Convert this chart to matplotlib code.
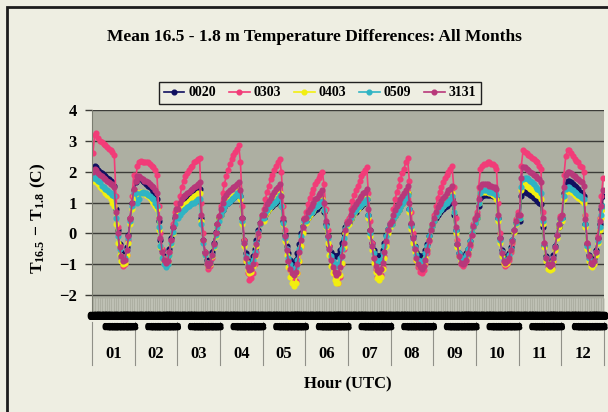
"""
Mean 16.5 - 1.8 m temperature differences, hourly by month, five towers.
"""
import numpy as np
import matplotlib
matplotlib.use("Agg")
from matplotlib import pyplot as plt
from matplotlib import patheffects
from matplotlib.patches import Rectangle
from matplotlib.transforms import blended_transform_factory

months = ["01", "02", "03", "04", "05", "06", "07", "08", "09", "10", "11", "12"]
hours = ["00", "01", "02", "03", "04", "05", "06", "07", "08", "09", "10", "11",
         "12", "13", "14", "15", "16", "17", "18", "19", "20", "21", "22", "23"]

# one row of 24 hourly means per month
t0020 = [
    [2.05, 2.2, 2.15, 2.05, 2.0, 1.95, 1.9, 1.85, 1.8, 1.75, 1.7, 1.65, 1.55, 0.8, 0.1, -0.35, -0.6, -0.75, -0.7, -0.45, -0.05, 0.5, 1.0, 1.4],
    [1.65, 1.75, 1.8, 1.75, 1.7, 1.65, 1.6, 1.55, 1.5, 1.45, 1.35, 1.25, 1.1, 0.4, -0.2, -0.55, -0.75, -0.8, -0.75, -0.5, -0.15, 0.2, 0.5, 0.7],
    [0.7, 0.85, 0.95, 1.0, 1.05, 1.1, 1.15, 1.2, 1.25, 1.3, 1.35, 1.4, 1.45, 0.5, -0.2, -0.6, -0.85, -0.9, -0.85, -0.6, -0.3, 0.05, 0.3, 0.5],
    [0.6, 0.75, 0.85, 0.95, 1.0, 1.05, 1.1, 1.15, 1.2, 1.25, 1.3, 1.2, 0.5, -0.2, -0.65, -0.9, -0.95, -0.9, -0.75, -0.5, -0.2, 0.1, 0.35, 0.5],
    [0.5, 0.6, 0.7, 0.8, 0.85, 0.9, 0.95, 1.0, 1.1, 1.2, 0.9, 0.4, -0.05, -0.4, -0.65, -0.85, -0.95, -0.95, -0.85, -0.65, -0.35, 0.0, 0.25, 0.45],
    [0.4, 0.5, 0.6, 0.65, 0.7, 0.75, 0.8, 0.9, 0.95, 1.0, 0.7, 0.3, -0.1, -0.4, -0.6, -0.7, -0.75, -0.75, -0.7, -0.55, -0.3, 0.0, 0.2, 0.35],
    [0.35, 0.45, 0.55, 0.65, 0.7, 0.8, 0.85, 0.9, 0.95, 1.0, 1.1, 0.6, 0.1, -0.3, -0.55, -0.7, -0.75, -0.75, -0.7, -0.55, -0.3, -0.05, 0.15, 0.3],
    [0.3, 0.45, 0.55, 0.65, 0.75, 0.85, 0.95, 1.05, 1.15, 1.3, 0.8, 0.3, -0.1, -0.4, -0.6, -0.7, -0.75, -0.75, -0.7, -0.55, -0.35, -0.1, 0.1, 0.25],
    [0.4, 0.5, 0.6, 0.7, 0.75, 0.8, 0.85, 0.9, 0.95, 1.0, 1.1, 0.6, 0.1, -0.35, -0.65, -0.8, -0.8, -0.75, -0.65, -0.5, -0.25, 0.0, 0.2, 0.35],
    [0.5, 0.9, 1.15, 1.2, 1.25, 1.25, 1.25, 1.25, 1.25, 1.2, 1.2, 1.15, 0.5, -0.15, -0.55, -0.75, -0.8, -0.75, -0.65, -0.45, -0.2, 0.1, 0.35, 0.5],
    [0.4, 1.2, 1.35, 1.35, 1.3, 1.3, 1.25, 1.2, 1.15, 1.1, 1.05, 1.0, 0.95, 0.2, -0.4, -0.75, -0.9, -0.9, -0.85, -0.7, -0.4, -0.05, 0.2, 0.35],
    [0.5, 1.3, 1.6, 1.7, 1.7, 1.65, 1.6, 1.55, 1.5, 1.45, 1.35, 1.3, 1.2, 0.3, -0.35, -0.7, -0.85, -0.9, -0.8, -0.55, -0.15, 0.3, 0.8, 1.2],
]
t0303 = [
    [2.6, 3.2, 3.25, 3.1, 3.0, 2.95, 2.9, 2.85, 2.8, 2.75, 2.7, 2.65, 2.55, 1.2, 0.2, -0.4, -0.8, -1.05, -1.0, -0.7, -0.2, 0.5, 1.2, 1.9],
    [1.7, 2.2, 2.3, 2.35, 2.3, 2.3, 2.3, 2.3, 2.25, 2.2, 2.15, 2.05, 1.9, 0.9, 0.0, -0.5, -0.8, -0.95, -0.9, -0.6, -0.2, 0.3, 0.7, 1.0],
    [0.8, 1.2, 1.5, 1.7, 1.85, 1.95, 2.05, 2.15, 2.2, 2.3, 2.35, 2.4, 2.45, 1.0, 0.0, -0.6, -1.0, -1.15, -1.05, -0.8, -0.4, 0.0, 0.3, 0.55],
    [0.9, 1.3, 1.6, 1.85, 2.05, 2.25, 2.4, 2.55, 2.65, 2.75, 2.85, 2.3, 0.9, -0.2, -0.9, -1.3, -1.5, -1.45, -1.3, -1.0, -0.6, -0.1, 0.3, 0.6],
    [0.8, 1.1, 1.35, 1.55, 1.75, 1.9, 2.05, 2.2, 2.3, 2.4, 2.0, 0.9, 0.1, -0.5, -0.9, -1.2, -1.45, -1.6, -1.55, -1.3, -0.9, -0.4, 0.1, 0.5],
    [0.7, 0.95, 1.15, 1.3, 1.45, 1.6, 1.7, 1.8, 1.9, 2.0, 1.6, 0.8, 0.1, -0.4, -0.8, -1.1, -1.35, -1.55, -1.6, -1.4, -1.0, -0.5, 0.0, 0.4],
    [0.5, 0.8, 1.05, 1.25, 1.4, 1.55, 1.7, 1.85, 1.95, 2.05, 2.15, 1.3, 0.4, -0.3, -0.8, -1.15, -1.4, -1.45, -1.35, -1.1, -0.75, -0.3, 0.1, 0.35],
    [0.4, 0.8, 1.1, 1.35, 1.55, 1.75, 1.95, 2.1, 2.3, 2.45, 1.7, 0.7, 0.0, -0.5, -0.85, -1.1, -1.25, -1.3, -1.2, -1.0, -0.65, -0.25, 0.1, 0.3],
    [0.6, 0.9, 1.15, 1.35, 1.5, 1.65, 1.8, 1.9, 2.0, 2.1, 2.2, 1.5, 0.5, -0.2, -0.7, -1.0, -1.05, -1.0, -0.9, -0.7, -0.4, -0.05, 0.3, 0.5],
    [0.7, 1.5, 2.1, 2.2, 2.25, 2.25, 2.3, 2.3, 2.25, 2.25, 2.2, 2.1, 1.0, 0.0, -0.6, -0.95, -1.05, -1.0, -0.85, -0.6, -0.3, 0.1, 0.45, 0.7],
    [0.6, 2.2, 2.7, 2.65, 2.6, 2.55, 2.5, 2.45, 2.4, 2.35, 2.3, 2.2, 2.1, 0.7, -0.3, -0.8, -1.05, -1.15, -1.1, -0.9, -0.5, -0.05, 0.3, 0.55],
    [0.6, 1.9, 2.5, 2.7, 2.7, 2.6, 2.5, 2.4, 2.35, 2.3, 2.2, 2.15, 2.0, 0.6, -0.3, -0.8, -1.0, -1.05, -0.95, -0.6, -0.1, 0.5, 1.2, 1.8],
]
t0403 = [
    [1.7, 1.75, 1.65, 1.6, 1.5, 1.45, 1.4, 1.3, 1.25, 1.2, 1.1, 1.0, 0.9, 0.3, -0.3, -0.7, -0.9, -1.0, -0.95, -0.7, -0.3, 0.3, 0.8, 1.2],
    [1.35, 1.1, 1.2, 1.35, 1.35, 1.3, 1.25, 1.2, 1.15, 1.05, 1.0, 0.9, 0.8, 0.1, -0.45, -0.8, -0.95, -1.0, -0.95, -0.7, -0.35, 0.0, 0.3, 0.55],
    [0.6, 0.75, 0.85, 0.9, 0.95, 1.0, 1.05, 1.1, 1.15, 1.2, 1.25, 1.3, 1.3, 0.4, -0.25, -0.7, -0.95, -1.05, -1.0, -0.75, -0.45, -0.1, 0.2, 0.45],
    [0.6, 0.8, 0.9, 1.0, 1.05, 1.1, 1.15, 1.2, 1.25, 1.3, 1.4, 1.1, 0.3, -0.4, -0.9, -1.2, -1.3, -1.25, -1.05, -0.75, -0.4, 0.0, 0.3, 0.5],
    [0.4, 0.6, 0.7, 0.8, 0.9, 0.95, 1.0, 1.1, 1.2, 1.3, 0.9, 0.3, -0.25, -0.7, -1.1, -1.4, -1.6, -1.7, -1.6, -1.3, -0.9, -0.4, 0.0, 0.3],
    [0.35, 0.5, 0.6, 0.7, 0.75, 0.85, 0.9, 0.95, 1.05, 1.1, 0.75, 0.2, -0.3, -0.7, -1.05, -1.3, -1.5, -1.6, -1.6, -1.35, -0.95, -0.45, 0.0, 0.25],
    [0.3, 0.45, 0.55, 0.65, 0.75, 0.8, 0.9, 0.95, 1.0, 1.05, 1.15, 0.5, -0.1, -0.55, -0.95, -1.25, -1.45, -1.5, -1.4, -1.15, -0.8, -0.4, 0.0, 0.2],
    [0.3, 0.45, 0.55, 0.65, 0.75, 0.85, 0.95, 1.05, 1.15, 1.3, 0.7, 0.15, -0.3, -0.6, -0.85, -1.0, -1.1, -1.1, -1.0, -0.8, -0.5, -0.15, 0.1, 0.25],
    [0.4, 0.55, 0.65, 0.75, 0.85, 0.9, 1.0, 1.05, 1.1, 1.2, 1.3, 0.7, 0.0, -0.45, -0.75, -0.9, -0.95, -0.9, -0.8, -0.6, -0.3, 0.0, 0.2, 0.35],
    [0.5, 1.0, 1.3, 1.35, 1.35, 1.35, 1.35, 1.3, 1.3, 1.25, 1.2, 1.1, 0.4, -0.3, -0.75, -0.95, -1.0, -0.95, -0.8, -0.55, -0.25, 0.05, 0.3, 0.5],
    [0.5, 1.4, 1.6, 1.6, 1.55, 1.5, 1.45, 1.4, 1.35, 1.3, 1.25, 1.2, 1.1, 0.3, -0.45, -0.9, -1.15, -1.2, -1.15, -0.9, -0.55, -0.15, 0.2, 0.4],
    [0.4, 1.1, 1.35, 1.4, 1.4, 1.35, 1.3, 1.25, 1.2, 1.15, 1.1, 1.05, 1.0, 0.2, -0.5, -0.9, -1.05, -1.1, -1.0, -0.7, -0.3, 0.1, 0.5, 0.8],
]
t0509 = [
    [1.8, 1.85, 1.75, 1.7, 1.65, 1.55, 1.5, 1.45, 1.4, 1.35, 1.3, 1.25, 1.2, 0.5, -0.1, -0.5, -0.75, -0.85, -0.8, -0.55, -0.15, 0.4, 0.9, 1.3],
    [1.3, 1.0, 1.1, 1.3, 1.35, 1.3, 1.3, 1.25, 1.2, 1.15, 1.1, 1.0, 0.9, 0.2, -0.4, -0.8, -1.0, -1.1, -1.0, -0.7, -0.3, 0.05, 0.3, 0.5],
    [0.5, 0.6, 0.7, 0.75, 0.8, 0.85, 0.9, 0.95, 1.0, 1.0, 1.05, 1.1, 1.1, 0.3, -0.3, -0.7, -0.95, -1.0, -0.95, -0.7, -0.4, -0.05, 0.2, 0.4],
    [0.6, 0.75, 0.85, 0.95, 1.0, 1.05, 1.1, 1.15, 1.2, 1.3, 1.35, 1.2, 0.4, -0.3, -0.75, -1.0, -1.05, -1.0, -0.85, -0.6, -0.3, 0.05, 0.3, 0.5],
    [0.5, 0.65, 0.75, 0.85, 0.9, 0.95, 1.0, 1.05, 1.15, 1.25, 0.9, 0.35, -0.15, -0.5, -0.8, -1.0, -1.15, -1.2, -1.1, -0.85, -0.5, -0.1, 0.2, 0.4],
    [0.4, 0.55, 0.65, 0.7, 0.8, 0.85, 0.9, 0.95, 1.0, 1.05, 0.75, 0.25, -0.15, -0.5, -0.75, -0.9, -1.0, -1.05, -1.0, -0.8, -0.5, -0.15, 0.15, 0.3],
    [0.4, 0.5, 0.6, 0.7, 0.75, 0.85, 0.9, 0.95, 1.0, 1.05, 1.1, 0.6, 0.0, -0.4, -0.65, -0.85, -0.9, -0.9, -0.85, -0.65, -0.4, -0.1, 0.15, 0.3],
    [0.3, 0.45, 0.55, 0.65, 0.75, 0.85, 0.95, 1.05, 1.15, 1.25, 0.8, 0.25, -0.15, -0.45, -0.7, -0.85, -0.9, -0.9, -0.85, -0.65, -0.4, -0.1, 0.1, 0.25],
    [0.4, 0.55, 0.65, 0.75, 0.8, 0.9, 0.95, 1.0, 1.05, 1.1, 1.2, 0.7, 0.1, -0.35, -0.65, -0.8, -0.85, -0.8, -0.7, -0.5, -0.25, 0.0, 0.2, 0.35],
    [0.5, 1.0, 1.3, 1.4, 1.4, 1.4, 1.4, 1.35, 1.35, 1.3, 1.3, 1.25, 0.5, -0.2, -0.6, -0.85, -0.9, -0.85, -0.7, -0.5, -0.2, 0.1, 0.35, 0.5],
    [0.5, 1.5, 1.75, 1.8, 1.8, 1.75, 1.7, 1.65, 1.6, 1.5, 1.45, 1.4, 1.3, 0.4, -0.35, -0.8, -1.0, -1.05, -1.0, -0.8, -0.45, -0.05, 0.3, 0.45],
    [0.5, 1.2, 1.45, 1.5, 1.5, 1.45, 1.4, 1.35, 1.3, 1.25, 1.2, 1.15, 1.1, 0.3, -0.4, -0.8, -0.95, -1.0, -0.9, -0.6, -0.25, 0.2, 0.6, 0.9],
]
t3131 = [
    [2.0, 2.1, 2.05, 1.95, 1.9, 1.85, 1.8, 1.75, 1.7, 1.65, 1.6, 1.6, 1.5, 0.7, 0.0, -0.45, -0.75, -0.9, -0.85, -0.55, -0.1, 0.45, 1.0, 1.45],
    [1.7, 1.85, 1.85, 1.8, 1.75, 1.7, 1.7, 1.65, 1.6, 1.55, 1.5, 1.4, 1.3, 0.5, -0.15, -0.6, -0.85, -0.95, -0.9, -0.6, -0.2, 0.2, 0.55, 0.8],
    [0.8, 1.0, 1.1, 1.2, 1.25, 1.3, 1.35, 1.4, 1.45, 1.5, 1.55, 1.6, 1.65, 0.6, -0.2, -0.65, -0.95, -1.05, -0.95, -0.7, -0.35, 0.0, 0.3, 0.55],
    [0.8, 1.0, 1.15, 1.25, 1.35, 1.4, 1.45, 1.5, 1.55, 1.6, 1.65, 1.4, 0.5, -0.3, -0.8, -1.1, -1.2, -1.15, -1.0, -0.7, -0.35, 0.0, 0.35, 0.6],
    [0.6, 0.8, 0.95, 1.05, 1.15, 1.25, 1.35, 1.45, 1.5, 1.6, 1.2, 0.5, -0.1, -0.55, -0.9, -1.15, -1.3, -1.35, -1.25, -1.0, -0.6, -0.2, 0.2, 0.45],
    [0.5, 0.7, 0.8, 0.9, 1.0, 1.1, 1.15, 1.25, 1.3, 1.4, 1.0, 0.4, -0.1, -0.5, -0.85, -1.1, -1.25, -1.35, -1.3, -1.1, -0.75, -0.3, 0.1, 0.35],
    [0.4, 0.6, 0.75, 0.85, 0.95, 1.05, 1.15, 1.2, 1.3, 1.35, 1.45, 0.8, 0.1, -0.4, -0.8, -1.05, -1.2, -1.25, -1.15, -0.95, -0.6, -0.25, 0.1, 0.3],
    [0.4, 0.6, 0.75, 0.9, 1.0, 1.1, 1.2, 1.3, 1.4, 1.55, 1.0, 0.35, -0.15, -0.5, -0.8, -1.0, -1.1, -1.15, -1.05, -0.85, -0.55, -0.2, 0.1, 0.3],
    [0.5, 0.7, 0.85, 0.95, 1.05, 1.15, 1.2, 1.3, 1.4, 1.45, 1.55, 1.0, 0.2, -0.35, -0.75, -0.95, -1.0, -0.95, -0.85, -0.65, -0.35, -0.05, 0.25, 0.45],
    [0.6, 1.1, 1.5, 1.6, 1.6, 1.6, 1.6, 1.55, 1.55, 1.5, 1.5, 1.45, 0.6, -0.15, -0.65, -0.9, -0.95, -0.9, -0.8, -0.55, -0.25, 0.1, 0.4, 0.6],
    [0.6, 1.8, 2.15, 2.15, 2.1, 2.05, 2.0, 1.95, 1.9, 1.85, 1.8, 1.75, 1.65, 0.5, -0.3, -0.8, -1.0, -1.05, -1.0, -0.8, -0.45, -0.05, 0.3, 0.5],
    [0.6, 1.5, 1.9, 2.0, 2.0, 1.95, 1.9, 1.85, 1.8, 1.75, 1.7, 1.65, 1.55, 0.45, -0.3, -0.75, -0.95, -1.0, -0.9, -0.6, -0.15, 0.4, 0.9, 1.4],
]

series_names = ["0020", "0303", "0403", "0509", "3131"]
series_colors = ["#101060", "#f23c78", "#f2ee10", "#2fb4c4", "#b8387a"]

PAGE = "#eeeee2"
PLOT = "#adafa2"
SERIF = "Liberation Serif"

plt.rcParams.update({
    "font.family": SERIF,
    "font.weight": "bold",
    "mathtext.fontset": "custom",
    "mathtext.rm": "Liberation Serif:bold",
    "mathtext.it": "Liberation Serif:bold",
    "mathtext.bf": "Liberation Serif:bold",
})

W, H = 608, 412
fig = plt.figure(figsize=(W / 100, H / 100), dpi=100, facecolor=PAGE)
left, right, top, bottom = 92, 604, 110, 312
ax = fig.add_axes([left / W, 1 - bottom / H, (right - left) / W, (bottom - top) / H])
ax.set_facecolor(PLOT)

x = np.arange(len(months) * len(hours)) + 0.5
for name, data, color in zip(series_names, [t0020, t0303, t0403, t0509, t3131], series_colors):
    ax.plot(x, np.concatenate(data), color=color, lw=1.2, marker="o", ms=3.4,
            mec=color, mfc=color, label=name)

ax.set_xlim(0, len(x))
ax.set_ylim(-2.55, 4)
ax.set_yticks(range(-2, 5))
ax.yaxis.grid(True, color="#3c3c38", lw=1.0)
ax.set_axisbelow(True)
ax.set_xticks([])
ax.set_xticks(np.arange(0, len(x) + 1), minor=True)
ax.tick_params(axis="x", which="minor", direction="in", length=10, width=0.5,
               color="#c6c8bc")
ax.tick_params(axis="y", length=5, width=1, color="#3c3c38", pad=6, labelsize=12)
for lab in ax.get_yticklabels():
    lab.set_fontweight("bold")
for side in ["top", "right"]:
    ax.spines[side].set_visible(False)
ax.spines["left"].set_color("#7a7c70")
ax.spines["bottom"].set_color("#202020")

# crowded hour labels (unreadable in the original, they pile up into a black band)
trans = blended_transform_factory(ax.transData, ax.transAxes)
thick = [patheffects.withStroke(linewidth=1.6, foreground="black")]
for i in range(len(x)):
    ax.text(x[i], -0.004, hours[i % 24], transform=trans, ha="center", va="top",
            fontsize=6.5, fontweight="bold", color="black", clip_on=False,
            path_effects=thick)
for m in range(len(months)):
    for h in range(8, 24):
        ax.text(m * 24 + h + 0.5, -0.055, hours[h], transform=trans, ha="center",
                va="top", fontsize=5.5, fontweight="bold", color="black", clip_on=False,
                path_effects=thick)

# month labels and separators
for m, lab in enumerate(months):
    ax.text(m * 24 + 12, -(354 - bottom) / (bottom - top), lab, transform=trans,
            ha="center", va="center", fontsize=12, fontweight="bold")
for m in range(len(months) + 1):
    ax.plot([m * 24, m * 24], [-(322 - bottom) / (bottom - top), -(365 - bottom) / (bottom - top)],
            transform=trans, color="#909088", lw=0.8, clip_on=False)

fig.text(348 / W, 1 - 384 / H, "Hour (UTC)", ha="center", va="center",
         fontsize=12, fontweight="bold")
fig.text(38 / W, 1 - 218 / H, r"$\mathrm{T_{16.5}\,-\,T_{1.8}\ (C)}$", rotation=90,
         ha="center", va="center", fontsize=12.5)
fig.text(314 / W, 1 - 37 / H, "Mean 16.5 - 1.8 m Temperature Differences: All Months",
         ha="center", va="center", fontsize=12.5, fontweight="bold")

handles, labels = ax.get_legend_handles_labels()
leg = fig.legend(handles, labels, loc="center", bbox_to_anchor=(320 / W, 1 - 93 / H),
                 ncol=5, fancybox=False, edgecolor="#202020", facecolor=PAGE,
                 framealpha=1, handlelength=1.5, handletextpad=0.3, columnspacing=0.9,
                 borderpad=0.3, prop={"family": SERIF, "weight": "bold", "size": 10})
leg.get_frame().set_linewidth(1.0)

fig.patches.append(Rectangle((7 / W, -0.1), 1.2, 1 - 7 / H + 0.1, transform=fig.transFigure,
                             fill=False, lw=2, ec="#1c1c1c"))

fig.savefig("out.png", dpi=100, facecolor=PAGE)
